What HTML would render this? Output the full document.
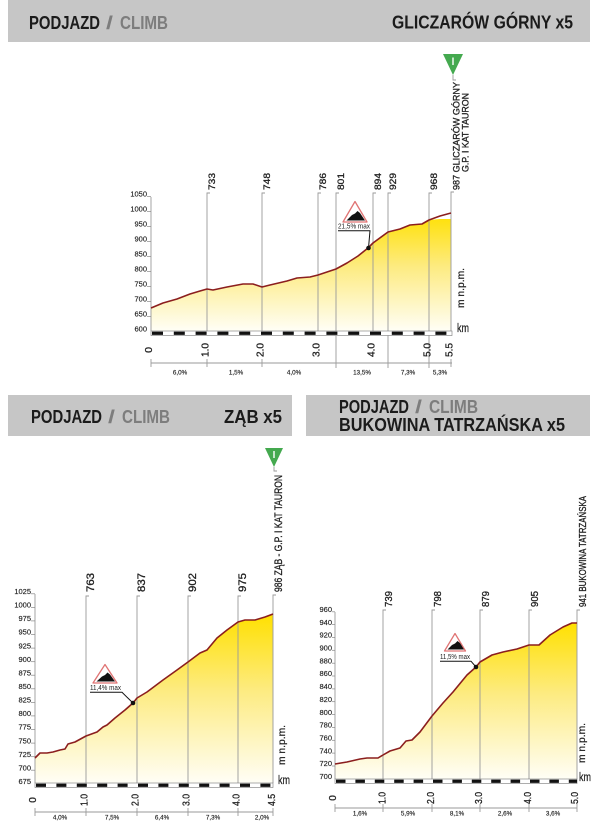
<!DOCTYPE html>
<html><head><meta charset="utf-8"><style>
html,body{margin:0;padding:0;background:#fff;}
svg{display:block;}
text{font-family:"Liberation Sans",sans-serif;fill:#222;}
.h{font-weight:bold;font-size:18px;fill:#1b1b1b;}
.hg{font-weight:bold;font-size:18px;fill:#7d7d7d;}
.yl{font-size:7.5px;text-anchor:end;stroke:#222;stroke-width:0.15;}
.km{font-size:10px;text-anchor:middle;stroke:#222;stroke-width:0.3;}
.gr{font-size:6.3px;text-anchor:middle;stroke:#222;stroke-width:0.15;}
.ml{font-size:10px;stroke:#222;stroke-width:0.3;}
.mx{font-size:7px;}
</style></head><body>
<svg width="601" height="827" viewBox="0 0 601 827" xmlns="http://www.w3.org/2000/svg">
<defs>
<linearGradient id="gA" gradientUnits="userSpaceOnUse" x1="0" y1="213" x2="0" y2="331">
<stop offset="0" stop-color="#ffe000"/><stop offset="0.45" stop-color="#fdeb80"/><stop offset="1" stop-color="#fffef6"/></linearGradient>
<linearGradient id="gB" gradientUnits="userSpaceOnUse" x1="0" y1="614" x2="0" y2="783">
<stop offset="0" stop-color="#ffe000"/><stop offset="0.45" stop-color="#fdeb80"/><stop offset="1" stop-color="#fffef6"/></linearGradient>
<linearGradient id="gC" gradientUnits="userSpaceOnUse" x1="0" y1="623" x2="0" y2="779">
<stop offset="0" stop-color="#ffe000"/><stop offset="0.45" stop-color="#fdeb80"/><stop offset="1" stop-color="#fffef6"/></linearGradient>
</defs>

<!-- ===== HEADERS ===== -->
<rect x="8" y="0" width="582" height="42" fill="#c6c6c6"/>
<text class="h" x="29" y="29" textLength="71" lengthAdjust="spacingAndGlyphs">PODJAZD</text>
<text class="hg" x="106" y="29" textLength="7" lengthAdjust="spacingAndGlyphs">/</text>
<text class="hg" x="120" y="29" textLength="48" lengthAdjust="spacingAndGlyphs">CLIMB</text>
<text class="h" x="392" y="28.5" textLength="181" lengthAdjust="spacingAndGlyphs">GLICZARÓW GÓRNY x5</text>

<rect x="8" y="395" width="284" height="41" fill="#c6c6c6"/>
<text class="h" x="31" y="423" textLength="71" lengthAdjust="spacingAndGlyphs">PODJAZD</text>
<text class="hg" x="108" y="423" textLength="7" lengthAdjust="spacingAndGlyphs">/</text>
<text class="hg" x="122" y="423" textLength="48" lengthAdjust="spacingAndGlyphs">CLIMB</text>
<text class="h" x="224" y="423" textLength="58" lengthAdjust="spacingAndGlyphs">ZĄB x5</text>

<rect x="306" y="395" width="284" height="41" fill="#c6c6c6"/>
<text class="h" x="339" y="413" textLength="70" lengthAdjust="spacingAndGlyphs">PODJAZD</text>
<text class="hg" x="415" y="413" textLength="7" lengthAdjust="spacingAndGlyphs">/</text>
<text class="hg" x="429" y="413" textLength="49" lengthAdjust="spacingAndGlyphs">CLIMB</text>
<text class="h" x="339" y="431" textLength="226" lengthAdjust="spacingAndGlyphs">BUKOWINA TATRZAŃSKA x5</text>

<!-- ===== TOP CHART ===== -->
<g>
<polygon fill="url(#gA)" points="151,308 163,303 177,299 190,294 200,291 207,289 213,290 227,287 243,284 253,284 262,287 270,285 287,281 297,278 310,277 318,275 336,269 347,263 358,256 368,248 373,243 388,232 400,229 410,225 422,224 429,220 440,219 451,219 451,331 151,331"/>
<g stroke="#9a9a9a" stroke-width="0.9" fill="none">
<line x1="151" y1="197" x2="151" y2="331"/>
<polyline points="210,193 207,193 207,331"/>
<polyline points="265,193 262,193 262,331"/>
<polyline points="321,193 318,193 318,331"/>
<polyline points="339,193 336,193 336,368"/>
<polyline points="376,193 373,193 373,331"/>
<polyline points="391,193 388,193 388,368"/>
<polyline points="432,193 429,193 429,368"/>
<polyline points="454,192 451,192 451,331"/>
<polyline points="456,80 453,80 453,75"/>
<line x1="151" y1="363" x2="452" y2="363"/>
<line x1="151" y1="359" x2="151" y2="367"/>
<line x1="207" y1="359" x2="207" y2="367"/>
<line x1="262" y1="359" x2="262" y2="367"/>
<line x1="451" y1="359" x2="451" y2="367"/>
</g>
<g class="yl">
<text x="147" y="196.7">1050</text><text x="147" y="211.7">1000</text><text x="147" y="226.7">950</text><text x="147" y="241.7">900</text><text x="147" y="256.7">850</text><text x="147" y="271.7">800</text><text x="147" y="286.7">750</text><text x="147" y="301.7">700</text><text x="147" y="316.7">650</text><text x="147" y="331.7">600</text>
</g>
<g stroke="#888" stroke-width="0.7">
<line x1="147" y1="196.5" x2="151" y2="196.5"/><line x1="147" y1="211.5" x2="151" y2="211.5"/><line x1="147" y1="226.5" x2="151" y2="226.5"/><line x1="147" y1="241.5" x2="151" y2="241.5"/><line x1="147" y1="256.5" x2="151" y2="256.5"/><line x1="147" y1="271.5" x2="151" y2="271.5"/><line x1="147" y1="286.5" x2="151" y2="286.5"/><line x1="147" y1="301.5" x2="151" y2="301.5"/><line x1="147" y1="316.5" x2="151" y2="316.5"/>
</g>
<polyline fill="none" stroke="#8b1e1e" stroke-width="1.6" stroke-linejoin="round" points="151,308 163,303 177,299 190,294 200,291 207,289 213,290 227,287 243,284 253,284 262,287 270,285 287,281 297,278 310,277 318,275 336,269 347,263 358,256 368,248 373,243 388,232 400,229 410,225 422,224 429,220 440,216 451,213"/>
<rect x="151" y="331" width="301" height="4.5" fill="#fff" stroke="#777" stroke-width="0.6"/>
<line x1="152" y1="333.25" x2="452" y2="333.25" stroke="#111" stroke-width="3.2" stroke-dasharray="11 10.8"/>
<!-- marker labels -->
<g class="ml" style="font-size:9.5px">
<text transform="translate(215,190) rotate(-90)" textLength="17" lengthAdjust="spacingAndGlyphs">733</text>
<text transform="translate(270,190) rotate(-90)" textLength="17" lengthAdjust="spacingAndGlyphs">748</text>
<text transform="translate(326,190) rotate(-90)" textLength="17" lengthAdjust="spacingAndGlyphs">786</text>
<text transform="translate(344,190) rotate(-90)" textLength="17" lengthAdjust="spacingAndGlyphs">801</text>
<text transform="translate(381,190) rotate(-90)" textLength="17" lengthAdjust="spacingAndGlyphs">894</text>
<text transform="translate(396,190) rotate(-90)" textLength="17" lengthAdjust="spacingAndGlyphs">929</text>
<text transform="translate(437,190) rotate(-90)" textLength="17" lengthAdjust="spacingAndGlyphs">968</text>
<text transform="translate(459.5,190) rotate(-90)" textLength="108" lengthAdjust="spacingAndGlyphs">987 GLICZARÓW GÓRNY</text>
<text transform="translate(468.5,172) rotate(-90)" textLength="79" lengthAdjust="spacingAndGlyphs">G.P. I KAT TAURON</text>
</g>
<polygon points="443,54 463,54 453,75" fill="#44a94f"/>
<line x1="453" y1="57.5" x2="453" y2="65" stroke="#fff" stroke-width="1.4"/>
<!-- km labels -->
<g class="km" style="font-size:10.5px">
<text transform="translate(152,350) rotate(-90)">0</text>
<text transform="translate(208.5,350) rotate(-90)" textLength="14" lengthAdjust="spacingAndGlyphs">1.0</text>
<text transform="translate(263.5,350) rotate(-90)" textLength="14" lengthAdjust="spacingAndGlyphs">2.0</text>
<text transform="translate(319.5,350) rotate(-90)" textLength="14" lengthAdjust="spacingAndGlyphs">3.0</text>
<text transform="translate(374.5,350) rotate(-90)" textLength="14" lengthAdjust="spacingAndGlyphs">4.0</text>
<text transform="translate(430.5,350) rotate(-90)" textLength="14" lengthAdjust="spacingAndGlyphs">5.0</text>
<text transform="translate(452.5,350) rotate(-90)" textLength="14" lengthAdjust="spacingAndGlyphs">5.5</text>
</g>
<g class="gr">
<text x="180" y="374.5">6,0%</text><text x="236" y="374.5">1,5%</text><text x="294" y="374.5">4,0%</text><text x="362" y="374.5">13,5%</text><text x="408" y="374.5">7,3%</text><text x="440" y="374.5">5,3%</text>
</g>
<text transform="translate(464,288) rotate(-90)" style="font-size:10.5px;text-anchor:middle;stroke:#222;stroke-width:0.25" textLength="40" lengthAdjust="spacingAndGlyphs">m n.p.m.</text>
<text x="457" y="332" style="font-size:11.5px;stroke:#222;stroke-width:0.25" textLength="12" lengthAdjust="spacingAndGlyphs">km</text>
<!-- climb icon -->
<polygon points="355,201.5 343,222 367,222" fill="#fff" stroke="#e07474" stroke-width="1.3" stroke-linejoin="round"/>
<polygon points="346.5,220.5 352,215 355,213.5 357.5,211 360,213 365,220.5" fill="#111"/>
<text class="mx" x="338" y="228.5" textLength="32" lengthAdjust="spacingAndGlyphs">21,5% max</text>
<polyline points="338,230.7 370,230.7 368.5,248" fill="none" stroke="#111" stroke-width="1"/>
<circle cx="368.5" cy="248" r="2.3" fill="#111"/>
</g>

<!-- ===== BOTTOM LEFT CHART ===== -->
<g>
<polygon fill="url(#gB)" points="35,758 40,753 47,753 53,752 60,750 65,749 68,744 75,742 86,736 97,732 103,727 107,725 115,718 125,710 133,703 137,698 147,692 163,680 177,670 188,662 200,653 207,650 217,638 227,630 238,622 245,620 255,620 265,617 273,614 273,783 35,783"/>
<g stroke="#9a9a9a" stroke-width="0.9" fill="none">
<line x1="35" y1="594" x2="35" y2="783"/>
<polyline points="89,596 86,596 86,783"/>
<polyline points="140,596 137,596 137,783"/>
<polyline points="191,596 188,596 188,783"/>
<polyline points="241,596 238,596 238,783"/>
<polyline points="276,595 273,595 273,783"/>
<polyline points="277,471 274,471 274,467"/>
<line x1="35" y1="812" x2="273" y2="812"/>
<line x1="35" y1="808" x2="35" y2="816"/>
<line x1="86" y1="808" x2="86" y2="816"/>
<line x1="137" y1="808" x2="137" y2="816"/>
<line x1="188" y1="808" x2="188" y2="816"/>
<line x1="238" y1="808" x2="238" y2="816"/>
<line x1="273" y1="808" x2="273" y2="816"/>
</g>
<g class="yl">
<text x="31" y="594">1025</text><text x="31" y="607.6">1000</text><text x="31" y="621.1">975</text><text x="31" y="634.7">950</text><text x="31" y="648.3">925</text><text x="31" y="661.9">900</text><text x="31" y="675.4">875</text><text x="31" y="689">850</text><text x="31" y="702.6">825</text><text x="31" y="716.1">800</text><text x="31" y="729.7">775</text><text x="31" y="743.3">750</text><text x="31" y="756.9">725</text><text x="31" y="770.4">700</text><text x="31" y="784">675</text>
</g>
<g stroke="#888" stroke-width="0.7">
<line x1="31" y1="593.8" x2="35" y2="593.8"/><line x1="31" y1="607.4" x2="35" y2="607.4"/><line x1="31" y1="620.9" x2="35" y2="620.9"/><line x1="31" y1="634.5" x2="35" y2="634.5"/><line x1="31" y1="648.1" x2="35" y2="648.1"/><line x1="31" y1="661.7" x2="35" y2="661.7"/><line x1="31" y1="675.2" x2="35" y2="675.2"/><line x1="31" y1="688.8" x2="35" y2="688.8"/><line x1="31" y1="702.4" x2="35" y2="702.4"/><line x1="31" y1="715.9" x2="35" y2="715.9"/><line x1="31" y1="729.5" x2="35" y2="729.5"/><line x1="31" y1="743.1" x2="35" y2="743.1"/><line x1="31" y1="756.7" x2="35" y2="756.7"/><line x1="31" y1="770.2" x2="35" y2="770.2"/>
</g>
<polyline fill="none" stroke="#8b1e1e" stroke-width="1.6" stroke-linejoin="round" points="35,758 40,753 47,753 53,752 60,750 65,749 68,744 75,742 86,736 97,732 103,727 107,725 115,718 125,710 133,703 137,698 147,692 163,680 177,670 188,662 200,653 207,650 217,638 227,630 238,622 245,620 255,620 265,617 273,614"/>
<rect x="35" y="783" width="238" height="4.5" fill="#fff" stroke="#777" stroke-width="0.6"/>
<line x1="36" y1="785.25" x2="273" y2="785.25" stroke="#111" stroke-width="3.2" stroke-dasharray="10 10.4"/>
<g class="ml" style="font-size:11px">
<text transform="translate(94,592) rotate(-90)" textLength="19" lengthAdjust="spacingAndGlyphs">763</text>
<text transform="translate(145,592) rotate(-90)" textLength="19" lengthAdjust="spacingAndGlyphs">837</text>
<text transform="translate(196,592) rotate(-90)" textLength="19" lengthAdjust="spacingAndGlyphs">902</text>
<text transform="translate(246,592) rotate(-90)" textLength="19" lengthAdjust="spacingAndGlyphs">975</text>
<text transform="translate(282,592) rotate(-90)" textLength="117" lengthAdjust="spacingAndGlyphs">986 ZĄB - G.P. I KAT TAURON</text>
</g>
<polygon points="265,448 283,448 274,467" fill="#44a94f"/>
<line x1="274" y1="451" x2="274" y2="458" stroke="#fff" stroke-width="1.4"/>
<g class="km">
<text transform="translate(36,800) rotate(-90)">0</text>
<text transform="translate(87.5,800) rotate(-90)" textLength="12" lengthAdjust="spacingAndGlyphs">1.0</text>
<text transform="translate(138.5,800) rotate(-90)" textLength="12" lengthAdjust="spacingAndGlyphs">2.0</text>
<text transform="translate(189.5,800) rotate(-90)" textLength="12" lengthAdjust="spacingAndGlyphs">3.0</text>
<text transform="translate(239.5,800) rotate(-90)" textLength="12" lengthAdjust="spacingAndGlyphs">4.0</text>
<text transform="translate(275,800) rotate(-90)" textLength="12" lengthAdjust="spacingAndGlyphs">4.5</text>
</g>
<g class="gr">
<text x="60" y="819.5">4,0%</text><text x="112" y="819.5">7,5%</text><text x="162" y="819.5">6,4%</text><text x="213" y="819.5">7,3%</text><text x="262" y="819.5">2,0%</text>
</g>
<text transform="translate(285,745) rotate(-90)" style="font-size:10.5px;text-anchor:middle;stroke:#222;stroke-width:0.25" textLength="40" lengthAdjust="spacingAndGlyphs">m n.p.m.</text>
<text x="278" y="784" style="font-size:11.5px;stroke:#222;stroke-width:0.25" textLength="12" lengthAdjust="spacingAndGlyphs">km</text>
<polygon points="105,664.5 93,683 117,683" fill="#fff" stroke="#e07474" stroke-width="1.3" stroke-linejoin="round"/>
<polygon points="96.5,681.5 102,676.5 105,675 107.5,672.5 110,674.5 115,681.5" fill="#111"/>
<text class="mx" x="90" y="690" textLength="31" lengthAdjust="spacingAndGlyphs">11,4% max</text>
<polyline points="90,692.3 122,692.3 133,703" fill="none" stroke="#111" stroke-width="1"/>
<circle cx="133" cy="703" r="2.3" fill="#111"/>
</g>

<!-- ===== BOTTOM RIGHT CHART ===== -->
<g>
<polygon fill="url(#gC)" points="335,764 347,762 360,759 367,758 378,758 383,755 390,751 400,748 406,741 412,740 420,732 432,716 443,703 453,692 467,675 476,667 480,662 492,655 503,652 517,649 529,645 539,645 550,635 563,627 572,623 577,623 577,779 335,779"/>
<g stroke="#9a9a9a" stroke-width="0.9" fill="none">
<line x1="335" y1="612" x2="335" y2="779"/>
<polyline points="386,610 383,610 383,779"/>
<polyline points="435,610 432,610 432,779"/>
<polyline points="483,610 480,610 480,779"/>
<polyline points="532,610 529,610 529,779"/>
<polyline points="580,610 577,610 577,779"/>
<line x1="335" y1="808" x2="577" y2="808"/>
<line x1="335" y1="804" x2="335" y2="812"/>
<line x1="383" y1="804" x2="383" y2="812"/>
<line x1="432" y1="804" x2="432" y2="812"/>
<line x1="480" y1="804" x2="480" y2="812"/>
<line x1="529" y1="804" x2="529" y2="812"/>
<line x1="577" y1="804" x2="577" y2="812"/>
</g>
<g class="yl">
<text x="332" y="612">960</text><text x="332" y="624.8">940</text><text x="332" y="637.7">920</text><text x="332" y="650.5">900</text><text x="332" y="663.4">880</text><text x="332" y="676.2">860</text><text x="332" y="689.1">840</text><text x="332" y="701.9">820</text><text x="332" y="714.8">800</text><text x="332" y="727.6">780</text><text x="332" y="740.5">760</text><text x="332" y="753.3">740</text><text x="332" y="766.2">720</text><text x="332" y="779">700</text>
</g>
<g stroke="#888" stroke-width="0.7">
<line x1="332" y1="611.8" x2="335" y2="611.8"/><line x1="332" y1="624.6" x2="335" y2="624.6"/><line x1="332" y1="637.5" x2="335" y2="637.5"/><line x1="332" y1="650.3" x2="335" y2="650.3"/><line x1="332" y1="663.2" x2="335" y2="663.2"/><line x1="332" y1="676" x2="335" y2="676"/><line x1="332" y1="688.9" x2="335" y2="688.9"/><line x1="332" y1="701.7" x2="335" y2="701.7"/><line x1="332" y1="714.6" x2="335" y2="714.6"/><line x1="332" y1="727.4" x2="335" y2="727.4"/><line x1="332" y1="740.3" x2="335" y2="740.3"/><line x1="332" y1="753.1" x2="335" y2="753.1"/><line x1="332" y1="766" x2="335" y2="766"/>
</g>
<polyline fill="none" stroke="#8b1e1e" stroke-width="1.6" stroke-linejoin="round" points="335,764 347,762 360,759 367,758 378,758 383,755 390,751 400,748 406,741 412,740 420,732 432,716 443,703 453,692 467,675 476,667 480,662 492,655 503,652 517,649 529,645 539,645 550,635 563,627 572,623 577,623"/>
<rect x="335" y="779" width="242" height="4.5" fill="#fff" stroke="#777" stroke-width="0.6"/>
<line x1="336" y1="781.25" x2="577" y2="781.25" stroke="#111" stroke-width="3.2" stroke-dasharray="9.5 9.9"/>
<g class="ml">
<text transform="translate(392,607) rotate(-90)" textLength="16" lengthAdjust="spacingAndGlyphs">739</text>
<text transform="translate(441,607) rotate(-90)" textLength="16" lengthAdjust="spacingAndGlyphs">798</text>
<text transform="translate(489,607) rotate(-90)" textLength="16" lengthAdjust="spacingAndGlyphs">879</text>
<text transform="translate(538,607) rotate(-90)" textLength="16" lengthAdjust="spacingAndGlyphs">905</text>
<text transform="translate(586,607) rotate(-90)" textLength="111" lengthAdjust="spacingAndGlyphs">941 BUKOWINA TATRZAŃSKA</text>
</g>
<g class="km">
<text transform="translate(336,798) rotate(-90)">0</text>
<text transform="translate(385.5,798) rotate(-90)" textLength="12" lengthAdjust="spacingAndGlyphs">1.0</text>
<text transform="translate(434,798) rotate(-90)" textLength="12" lengthAdjust="spacingAndGlyphs">2.0</text>
<text transform="translate(482,798) rotate(-90)" textLength="12" lengthAdjust="spacingAndGlyphs">3.0</text>
<text transform="translate(531,798) rotate(-90)" textLength="12" lengthAdjust="spacingAndGlyphs">4.0</text>
<text transform="translate(578,798) rotate(-90)" textLength="12" lengthAdjust="spacingAndGlyphs">5.0</text>
</g>
<g class="gr">
<text x="360" y="815.5">1,6%</text><text x="408" y="815.5">5,9%</text><text x="457" y="815.5">8,1%</text><text x="505" y="815.5">2,6%</text><text x="553" y="815.5">3,6%</text>
</g>
<text transform="translate(585,743) rotate(-90)" style="font-size:10.5px;text-anchor:middle;stroke:#222;stroke-width:0.25" textLength="40" lengthAdjust="spacingAndGlyphs">m n.p.m.</text>
<text x="579" y="781" style="font-size:11.5px;stroke:#222;stroke-width:0.25" textLength="12" lengthAdjust="spacingAndGlyphs">km</text>
<polygon points="455,633.5 444.5,651 465.5,651" fill="#fff" stroke="#e07474" stroke-width="1.3" stroke-linejoin="round"/>
<polygon points="447.5,649.5 452,645 455,643.5 457.5,641 460,643 464,649.5" fill="#111"/>
<text class="mx" x="440" y="659" textLength="30" lengthAdjust="spacingAndGlyphs">11,5% max</text>
<polyline points="440,661.2 471,661.2 476,667" fill="none" stroke="#111" stroke-width="1"/>
<circle cx="476" cy="667" r="2.3" fill="#111"/>
</g>
</svg>
</body></html>
